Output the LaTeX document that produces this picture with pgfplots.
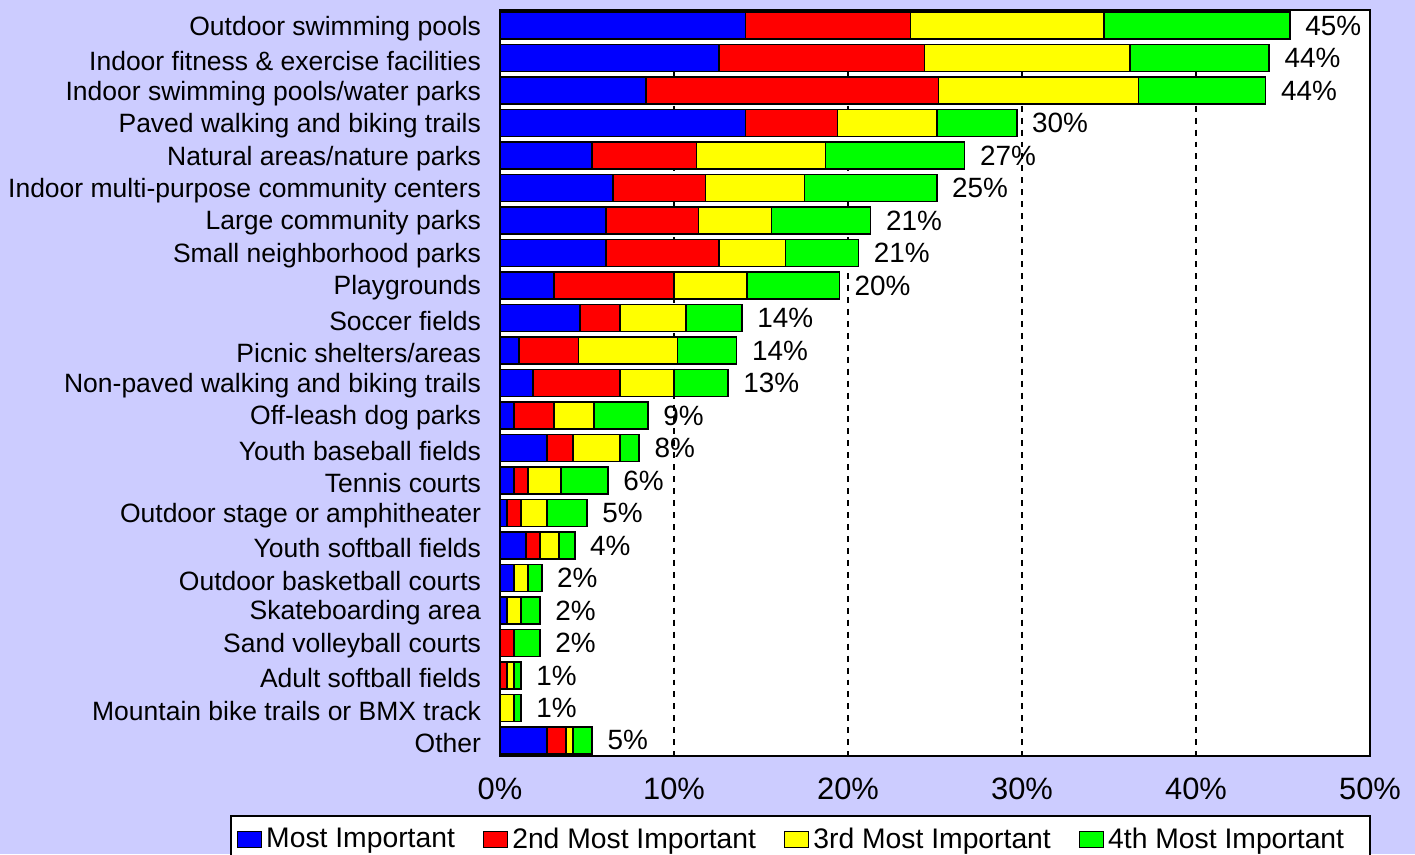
\documentclass[border=0pt]{standalone}
\usepackage{pgfplots}
\pgfplotsset{compat=1.18}
\usepackage{pgfplotstable}
\usepackage{fontspec}
\setmainfont{Liberation Sans}
\definecolor{bg}{HTML}{CCCCFF}
\definecolor{cblue}{HTML}{0000FF}
\definecolor{cred}{HTML}{FF0000}
\definecolor{cyellow}{HTML}{FFFF00}
\definecolor{cgreen}{HTML}{00FF00}
\pgfplotstableread{
y a b c d e t
0 14.1 9.5 11.1 10.7 45.4 45
1 12.6 11.8 11.8 8.0 44.2 44
2 8.4 16.8 11.5 7.3 44.0 44
3 14.1 5.3 5.7 4.6 29.7 30
4 5.3 6.0 7.4 8.0 26.7 27
5 6.5 5.3 5.7 7.6 25.1 25
6 6.1 5.3 4.2 5.7 21.3 21
7 6.1 6.5 3.8 4.2 20.6 21
8 3.1 6.9 4.2 5.3 19.5 20
9 4.6 2.3 3.8 3.2 13.9 14
10 1.1 3.4 5.7 3.4 13.6 14
11 1.9 5.0 3.1 3.1 13.1 13
12 0.8 2.3 2.3 3.1 8.5 9
13 2.7 1.5 2.7 1.1 8.0 8
14 0.8 0.8 1.9 2.7 6.2 6
15 0.4 0.8 1.5 2.3 5.0 5
16 1.5 0.8 1.1 0.9 4.3 4
17 0.8 0 0.8 0.8 2.4 2
18 0.4 0 0.8 1.1 2.3 2
19 0 0.8 0 1.5 2.3 2
20 0 0.4 0.4 0.4 1.2 1
21 0 0 0.8 0.4 1.2 1
22 2.7 1.1 0.4 1.1 5.3 5
}\data
\begin{document}
\begin{tikzpicture}[x=1bp,y=1bp]
\useasboundingbox (0,0) rectangle (707.5,427);
\fill[bg] (0,0) rectangle (707.5,427);
\begin{axis}[
  at={(250bp,49bp)}, anchor=south west,
  scale only axis, width=435bp, height=373bp,
  xbar stacked, bar width=13.5bp,
  xmin=0, xmax=50, ymin=-0.48, ymax=22.48,
  y dir=reverse,
  axis background/.style={fill=white},
  axis line style={black, line width=1bp},
  xtick={0,10,...,50},
  xticklabel={\pgfmathprintnumber{\tick}\%},
  /pgf/number format/assume math mode=true,
  xticklabel style={font=\fontsize{15.5}{18}\selectfont, yshift=-7.5bp},
  ytick={0,...,22},
  yticklabels={Outdoor swimming pools, Indoor fitness \& exercise facilities, Indoor swimming pools/water parks, Paved walking and biking trails, Natural areas/nature parks, Indoor multi-purpose community centers, Large community parks, Small neighborhood parks, Playgrounds, Soccer fields, Picnic shelters/areas, Non-paved walking and biking trails, Off-leash dog parks, Youth baseball fields, Tennis courts, Outdoor stage or amphitheater, Youth softball fields, Outdoor basketball courts, Skateboarding area, Sand volleyball courts, Adult softball fields, Mountain bike trails or BMX track, Other},
  yticklabel style={font=\fontsize{13.3}{15}\selectfont, xshift=-6bp, yshift=-1.3bp},
  major tick length=0pt,
  xmajorgrids, grid style={dashed, black, line width=0.6bp},
  legend style={at={(-0.3103,-0.0791)}, anchor=north west, legend columns=4, draw=black, fill=white, line width=0.8bp, font=\fontsize{14.2}{16}\selectfont, inner xsep=3bp, inner ysep=4bp, /tikz/every even column/.append style={column sep=12bp}, /tikz/every odd column/.append style={column sep=0bp}},
  legend image code/.code={\draw[#1, draw=black, line width=0.7bp] (0bp,-4bp) rectangle (12bp,4bp);},
  every axis plot/.append style={draw=black, line width=0.8bp},
]
\addplot[fill=cblue] table[x=a, y=y] {\data};
\addplot[fill=cred] table[x=b, y=y] {\data};
\addplot[fill=cyellow] table[x=c, y=y] {\data};
\addplot[fill=cgreen] table[x=d, y=y] {\data};
\legend{Most Important, 2nd Most Important, 3rd Most Important, {4th Most Important\rule{8bp}{0pt}}}
\end{axis}
\begin{axis}[
  at={(250bp,49bp)}, anchor=south west,
  scale only axis, width=435bp, height=373bp,
  xmin=0, xmax=50, ymin=-0.48, ymax=22.48,
  y dir=reverse, hide axis, clip=false,
  /pgf/number format/assume math mode=true,
]
\addplot[draw=none, mark=none, point meta=explicit, nodes near coords={\pgfmathprintnumber{\pgfplotspointmeta}\%},
  nodes near coords style={anchor=west, font=\fontsize{14}{16}\selectfont, black, xshift=3bp, inner sep=4.5bp}] table[x=e, y=y, meta=t] {\data};
\end{axis}
\end{tikzpicture}
\end{document}
